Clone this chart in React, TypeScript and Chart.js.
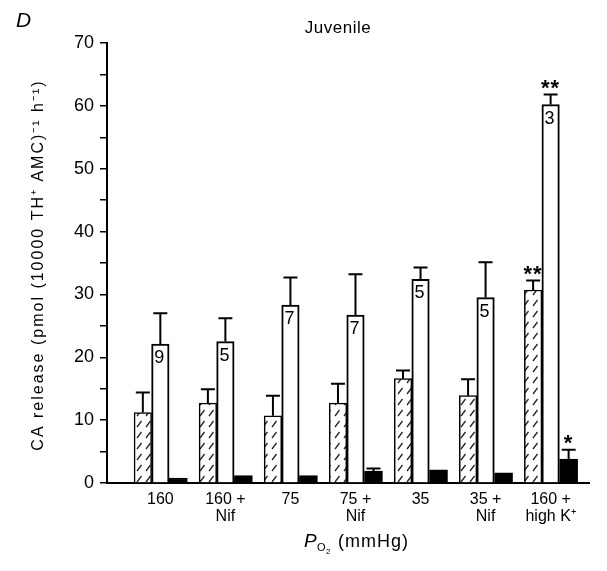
import React, { useEffect, useRef } from 'react';
import { Chart, registerables } from 'chart.js';

Chart.register(...registerables);

// ---- data ----
const categories: string[][] = [
  ['160'],
  ['160 +', 'Nif'],
  ['75'],
  ['75 +', 'Nif'],
  ['35'],
  ['35 +', 'Nif'],
  ['160 +', 'high K\u207A'],
];
const hatchedValues = [11.2, 12.7, 10.7, 12.7, 16.6, 13.9, 30.7];
const hatchedErrorTops = [14.4, 14.9, 13.9, 15.8, 17.9, 16.5, 32.2];
const openValues = [22.1, 22.5, 28.3, 26.7, 32.4, 29.5, 60.2];
const openErrorTops = [27.0, 26.2, 32.7, 33.2, 34.3, 35.1, 61.8];
const filledValues = [0.8, 1.2, 1.2, 1.9, 2.1, 1.6, 3.8];
const filledErrorTops: (number | null)[] = [null, null, null, 2.3, null, null, 5.3];
const nLabels = ['9', '5', '7', '7', '5', '5', '3'];
const hatchedMarks = ['', '', '', '', '', '', '**'];
const openMarks = ['', '', '', '', '', '', '**'];
const filledMarks = ['', '', '', '', '', '', '*'];
const yTickValues = [0, 5, 10, 15, 20, 25, 30, 35, 40, 45, 50, 55, 60, 65, 70];
const yTickLabels = ['0', '', '10', '', '20', '', '30', '', '40', '', '50', '', '60', '', '70'];
const panelLetter = 'D';
const chartTitle = 'Juvenile';
const yTitle = 'CA release (pmol (10000 TH\u207A AMC)\u207B\u00B9 h\u207B\u00B9)';

const FONT = '"Liberation Sans", Arial, Helvetica, sans-serif';
const INK = '#000';

function makeHatch(): CanvasPattern | string {
  const c = document.createElement('canvas');
  c.width = 9;
  c.height = 11;
  const g = c.getContext('2d');
  if (!g) return '#fff';
  g.fillStyle = '#fff';
  g.fillRect(0, 0, 9, 11);
  g.strokeStyle = '#222';
  g.lineWidth = 1.3;
  g.beginPath();
  g.moveTo(2, 9);
  g.lineTo(6.5, 3);
  g.stroke();
  return g.createPattern(c, 'repeat') || '#fff';
}

const overlayPlugin = {
  id: 'overlay',
  afterDatasetsDraw(chart: any) {
    const ctx: CanvasRenderingContext2D = chart.ctx;
    const yScale = chart.scales.y;
    const errSets = [hatchedErrorTops, openErrorTops, filledErrorTops];
    const markSets = [hatchedMarks, openMarks, filledMarks];
    ctx.save();
    ctx.strokeStyle = '#000';
    ctx.lineWidth = 2;
    errSets.forEach((errs, di) => {
      const meta = chart.getDatasetMeta(di);
      meta.data.forEach((bar: any, i: number) => {
        const e = errs[i];
        const x = bar.x;
        let topY = bar.y;
        if (e != null) {
          const ey = yScale.getPixelForValue(e);
          ctx.beginPath();
          ctx.moveTo(x, bar.y);
          ctx.lineTo(x, ey);
          ctx.moveTo(x - 7, ey);
          ctx.lineTo(x + 7, ey);
          ctx.stroke();
          topY = ey;
        }
        const m = markSets[di][i];
        if (m) {
          ctx.fillStyle = '#000';
          ctx.font = `bold 22px ${FONT}`;
          ctx.textAlign = 'center';
          ctx.textBaseline = 'alphabetic';
          (ctx as any).letterSpacing = '1px';
          ctx.fillText(m, x, topY - 0);
          (ctx as any).letterSpacing = '0px';
        }
      });
    });
    // n labels inside open bars
    const openMeta = chart.getDatasetMeta(1);
    ctx.fillStyle = INK;
    ctx.font = `18px ${FONT}`;
    ctx.textAlign = 'center';
    ctx.textBaseline = 'top';
    openMeta.data.forEach((bar: any, i: number) => {
      ctx.fillText(nLabels[i], bar.x - 1, bar.y + 5);
    });
    ctx.restore();
  },
  afterDraw(chart: any) {
    const ctx: CanvasRenderingContext2D = chart.ctx;
    const area = chart.chartArea;
    ctx.save();
    ctx.fillStyle = INK;
    // panel letter
    ctx.font = `italic 21px ${FONT}`;
    ctx.textAlign = 'left';
    ctx.textBaseline = 'alphabetic';
    ctx.fillText(panelLetter, 16, 27);
    // chart title
    ctx.font = `17px ${FONT}`;
    ctx.textAlign = 'center';
    (ctx as any).letterSpacing = '0.5px';
    ctx.fillText(chartTitle, 338, 33);
    // y title
    ctx.save();
    ctx.translate(39, (area.top + area.bottom) / 2 + 2);
    ctx.rotate(-Math.PI / 2);
    ctx.font = `16px ${FONT}`;
    ctx.textAlign = 'center';
    ctx.textBaseline = 'middle';
    (ctx as any).letterSpacing = '2px';
    ctx.fillText(yTitle, 0, 0);
    ctx.restore();
    // x title: P_O2 (mmHg)
    (ctx as any).letterSpacing = '0px';
    ctx.textAlign = 'left';
    ctx.textBaseline = 'alphabetic';
    ctx.font = `italic 19px ${FONT}`;
    ctx.fillText('P', 304, 547);
    ctx.font = `11px ${FONT}`;
    ctx.fillText('O', 317, 551);
    ctx.font = `8px ${FONT}`;
    ctx.fillText('2', 326, 554);
    ctx.font = `18px ${FONT}`;
    (ctx as any).letterSpacing = '1px';
    ctx.fillText('(mmHg)', 338, 547);
    ctx.restore();
  },
};

export default function App() {
  const canvasRef = useRef<HTMLCanvasElement | null>(null);

  useEffect(() => {
    const canvas = canvasRef.current;
    if (!canvas) return;
    const hatch = makeHatch();
    const toXY = (vals: number[]) => vals.map((v, i) => ({ x: i, y: v }));
    const chart = new Chart(canvas, {
      type: 'bar',
      data: {
        datasets: [
          {
            label: 'hatched',
            data: toXY(hatchedValues),
            backgroundColor: hatch as any,
            borderColor: '#000',
            borderWidth: 1.5,
            barThickness: 17.5,
          },
          {
            label: 'open',
            data: toXY(openValues),
            backgroundColor: '#fff',
            borderColor: '#000',
            borderWidth: 2,
            barThickness: 17.5,
          },
          {
            label: 'filled',
            data: toXY(filledValues),
            backgroundColor: '#000',
            borderColor: '#000',
            borderWidth: 1.5,
            barThickness: 18,
          },
        ] as any,
      },
      options: {
        animation: false,
        responsive: false,
        devicePixelRatio: 1,
        layout: { padding: { left: 0, top: 43, right: 18, bottom: 0 } },
        plugins: {
          legend: { display: false },
          title: { display: false },
          tooltip: { enabled: false },
        },
        scales: {
          x: {
            type: 'linear',
            min: -0.82,
            max: 6.59,
            offset: false,
            afterBuildTicks: (s: any) => {
              s.ticks = categories.map((_, i) => ({ value: i }));
            },
            afterFit: (s: any) => {
              s.height = 88;
            },
            ticks: {
              autoSkip: false,
              maxRotation: 0,
              minRotation: 0,
              padding: 8,
              color: INK,
              font: { family: FONT, size: 16, lineHeight: 1.05 },
              callback: (v: any) => categories[Number(v)] ?? '',
            },
            grid: { display: false, drawTicks: false, offset: false },
            border: { display: true, color: '#000', width: 2 },
          },
          y: {
            min: 0,
            max: 70,
            afterBuildTicks: (s: any) => {
              s.ticks = yTickValues.map((v) => ({ value: v }));
            },
            afterFit: (s: any) => {
              s.width = 107;
            },
            ticks: {
              padding: 6,
              color: INK,
              font: { family: FONT, size: 18 },
              callback: (v: any) => yTickLabels[yTickValues.indexOf(Number(v))] ?? '',
            },
            grid: {
              drawOnChartArea: false,
              drawTicks: true,
              tickLength: 7,
              color: '#000',
              lineWidth: 1.5,
            },
            border: { display: true, color: '#000', width: 2 },
          },
        },
      } as any,
      plugins: [overlayPlugin],
    });
    return () => chart.destroy();
  }, []);

  return (
    <div style={{ position: 'absolute', left: 0, top: 0, width: 607, height: 571, background: '#fff' }}>
      <canvas ref={canvasRef} width={607} height={571} style={{ display: 'block', width: 607, height: 571 }} />
    </div>
  );
}
